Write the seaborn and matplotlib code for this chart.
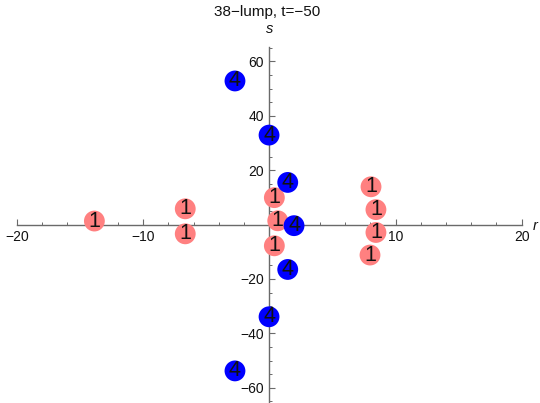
import matplotlib
matplotlib.use("Agg")
import matplotlib.pyplot as plt
import seaborn as sns
import pandas as pd
from matplotlib.ticker import MultipleLocator, FixedLocator

# ---- data ----
pink_r = [-13.86, -6.66, -6.66, 0.40, 0.67, 0.40, 8.06, 8.45, 8.45, 7.98]
pink_s = [1.3, 5.8, -3.4, 9.9, 1.4, -7.8, 13.9, 5.5, -2.9, -11.2]
pink_label = "1"

blue_r = [-2.72, -0.02, 1.46, 1.96, 1.46, -0.02, -2.72]
blue_s = [52.8, 32.9, 15.5, -0.4, -16.5, -33.9, -53.8]
blue_label = "4"

title = "38\u2212lump, t=\u221250"
x_ticks = [-20, -10, 10, 20]
y_ticks = [-60, -40, -20, 20, 40, 60]

sns.set_style("white")
plt.rcParams["font.family"] = ["Liberation Sans", "DejaVu Sans"]

df = pd.DataFrame({
    "r": pink_r + blue_r,
    "s": pink_s + blue_s,
    "kind": [pink_label] * len(pink_r) + [blue_label] * len(blue_r),
})

fig = plt.figure(figsize=(5.4, 4.03), dpi=100)
ax = fig.add_axes([16.9 / 540, 0.0, 504.8 / 540, (403 - 46.7) / 403])

axis_col = "#6a6a6a"

sns.scatterplot(data=df[df.kind == pink_label], x="r", y="s", color="#ff8080",
                s=225, edgecolor="none", ax=ax, zorder=3, legend=False)
for r, s in zip(pink_r, pink_s):
    ax.text(r, s, pink_label, ha="center", va="center", fontsize=15.5,
            color="#111111", zorder=4)
sns.scatterplot(data=df[df.kind == blue_label], x="r", y="s", color="#0000ff",
                s=225, edgecolor="none", ax=ax, zorder=5, legend=False)
for r, s in zip(blue_r, blue_s):
    ax.text(r, s, blue_label, ha="center", va="center", fontsize=15.5,
            color="#111111", zorder=6)

ax.set_xlim(-20, 20)
ax.set_ylim(-65.6, 65.4)
ax.set_xlabel("")
ax.set_ylabel("")

for side in ["top", "right"]:
    ax.spines[side].set_visible(False)
ax.spines["left"].set_position(("data", 0))
ax.spines["bottom"].set_position(("data", 0))
for side in ["left", "bottom"]:
    ax.spines[side].set_color(axis_col)
    ax.spines[side].set_linewidth(1.0)
    ax.spines[side].set_zorder(1)

ax.xaxis.set_major_locator(FixedLocator(x_ticks))
ax.yaxis.set_major_locator(FixedLocator(y_ticks))
ax.xaxis.set_minor_locator(MultipleLocator(2))
ax.yaxis.set_minor_locator(MultipleLocator(5))
ax.tick_params(axis="both", which="both", bottom=True, left=True,
               top=False, right=False)
ax.tick_params(axis="both", which="major", direction="in", length=4.3,
               width=0.8, color=axis_col, labelsize=10, labelcolor="#111111")
ax.tick_params(axis="both", which="minor", direction="in", length=2.5,
               width=0.7, color=axis_col)
ax.tick_params(axis="x", which="major", pad=4)
ax.tick_params(axis="y", which="major", pad=4)

ax.annotate("r", xy=(20, 0), xytext=(8, -1), textcoords="offset points",
            ha="left", va="center", fontsize=10.5, style="italic",
            color="#111111", annotation_clip=False)
ax.annotate("s", xy=(0, 65.4), xytext=(0, 12.5), textcoords="offset points",
            ha="center", va="center", fontsize=10.5, style="italic",
            color="#111111", annotation_clip=False)

fig.text(267.5 / 540, 1 - 12 / 403, title, ha="center", va="center",
         fontsize=11, color="#111111")

ax.grid(False)
ax.patch.set_alpha(0)
fig.savefig("out.png", dpi=100)
